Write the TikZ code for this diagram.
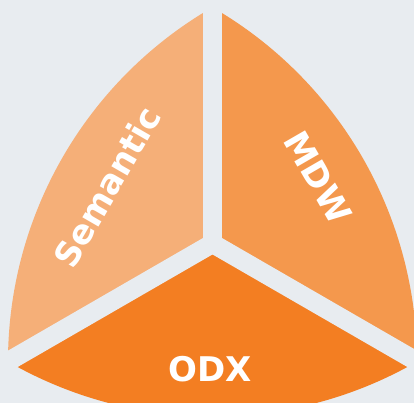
\documentclass[tikz,border=0pt]{standalone}
\usepackage{fontspec}
\setmainfont{DejaVu Sans}
\usetikzlibrary{calc}
\definecolor{bgc}{HTML}{E8ECF0}
\definecolor{semc}{HTML}{F5AF78}
\definecolor{mdwc}{HTML}{F4984D}
\definecolor{odxc}{HTML}{F37E22}
\tikzset{
  lbl/.style={text=white, font=\fontsize{34}{40}\selectfont\bfseries, inner sep=0pt},
  gap/.style={draw=bgc, line width=19pt, line cap=butt}
}
\begin{document}
\begin{tikzpicture}[x=1pt,y=1pt]
\useasboundingbox (0,0) rectangle (414,403);
\clip (0,0) rectangle (414,403);
\fill[bgc] (0,0) rectangle (414,403);
\coordinate (C) at (212.5,159.5);
\coordinate (T) at (212.5,395.7);
\coordinate (BL) at (8,41.4);
\coordinate (BR) at (417,41.4);
% sectors
\fill[semc] (C) -- (T) arc[start angle=120, end angle=180, radius=409] -- cycle;
\fill[mdwc] (C) -- (BR) arc[start angle=0, end angle=60, radius=409] -- cycle;
\fill[odxc] (C) -- (BL) arc[start angle=240, end angle=300, radius=409] -- cycle;
% gaps
\draw[gap] ($(C)!-9.5pt!(T)$) -- ($(C)!2!(T)$);
\draw[gap] ($(C)!-9.5pt!(BL)$) -- ($(C)!2!(BL)$);
\draw[gap] ($(C)!-9.5pt!(BR)$) -- ($(C)!2!(BR)$);
% labels
\node[lbl, rotate=60] (sem) at (107,216) {Semantic};
\node[lbl, rotate=-60] (mdw) at (318.5,225.5) {MDW};
\node[lbl] (odx) at (210,33.5) {ODX};
\end{tikzpicture}
\end{document}
